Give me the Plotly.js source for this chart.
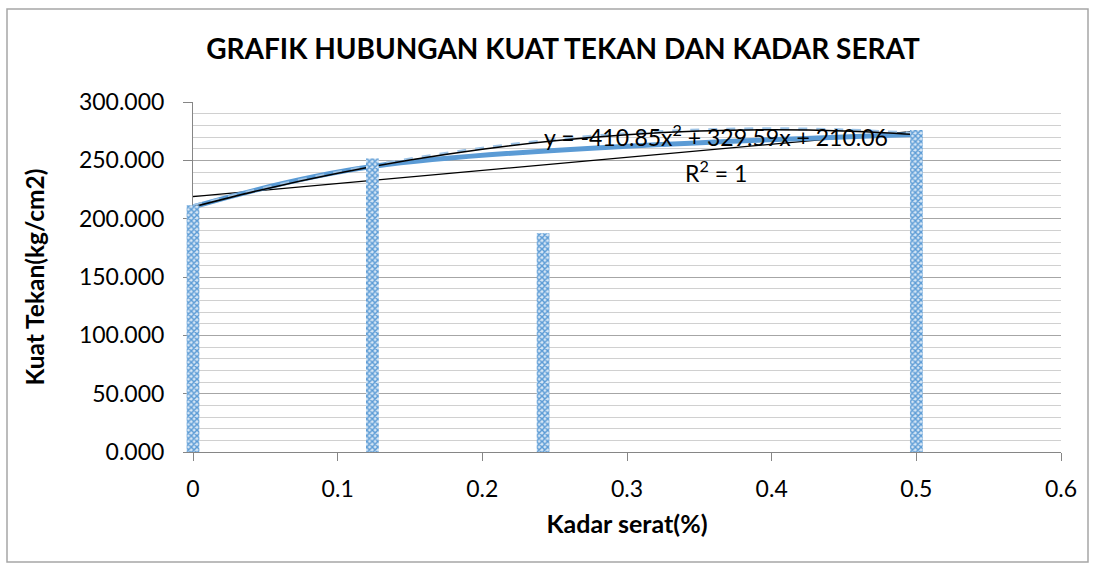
<!DOCTYPE html>
<html>
<head>
<meta charset="utf-8">
<script src="https://cdn.plot.ly/plotly-3.0.1.min.js"></script>
<style>html,body{margin:0;padding:0;background:#fff;}#chart{width:1095px;height:569px;}</style>
</head>
<body>
<div id="chart"></div>
<script>
// Data series points (Kadar serat %, Kuat Tekan kg/cm2)
var seriesX = [0, 0.125, 0.5];
var seriesY = [210.06, 244.84, 272.15];

// Bars (patterned columns) as they appear in the chart
var barX = [0, 0.124, 0.242, 0.5];
var barY = [211.5, 251.5, 187.5, 276];

// Polynomial (order 2) trendline
var polyX = [0, 0.05, 0.1, 0.15, 0.2, 0.25, 0.3, 0.35, 0.4, 0.45, 0.5];
var polyY = [210.06, 225.51, 238.91, 250.26, 259.54, 266.78, 271.96, 275.09, 276.16, 275.18, 272.14];

// Linear trendline end points
var linX = [0, 0.5];
var linY = [218.95, 275.10];

// Texts
var chartTitle = 'GRAFIK HUBUNGAN KUAT TEKAN DAN KADAR SERAT';
var xTitle = 'Kadar serat(%)';
var yTitle = 'Kuat Tekan(kg/cm2)';
var eqText = 'y = -410.85x<sup>2</sup> + 329.59x + 210.06';
var r2Text = 'R<sup>2</sup> = 1';

var FONT = 'Lato, "Open Sans", sans-serif';

var traces = [
  {
    x: linX, y: linY, type: 'scatter', mode: 'lines',
    line: {color: '#000000', width: 1.2}, hoverinfo: 'skip', showlegend: false
  },
  {
    x: seriesX, y: seriesY, type: 'scatter', mode: 'lines',
    line: {color: '#5b9bd5', width: 5, shape: 'spline', smoothing: 1}, showlegend: false
  },
  {
    x: polyX, y: polyY.map(function(v){return v + 0.9;}), type: 'scatter', mode: 'lines',
    line: {color: '#9dc3e6', width: 3, dash: 'dash', shape: 'spline'}, hoverinfo: 'skip', showlegend: false
  },
  {
    x: polyX, y: polyY, type: 'scatter', mode: 'lines',
    line: {color: '#000000', width: 1.5, shape: 'spline'}, hoverinfo: 'skip', showlegend: false
  },
  {
    x: barX, y: barY, type: 'bar', xaxis: 'x2', yaxis: 'y2', width: 0.0088,
    marker: {color: '#5b9bd5', line: {width: 0},
      pattern: {shape: 'x', fgcolor: '#5b9bd5', bgcolor: '#d6e6f5', size: 4, solidity: 0.6}},
    showlegend: false
  }
];

var layout = {
  width: 1095, height: 569,
  margin: {l: 180, r: 34, t: 102, b: 117, pad: 0},
  paper_bgcolor: '#ffffff', plot_bgcolor: 'rgba(0,0,0,0)',
  showlegend: false,
  font: {family: FONT, size: 23, color: '#000000'},
  title: {
    text: chartTitle, font: {family: FONT, size: 28, weight: 'bold', color: '#000000'},
    xref: 'container', x: 563/1095, xanchor: 'center',
    yref: 'container', y: 1 - 49/569, yanchor: 'middle'
  },
  xaxis: {
    domain: [13/881, 1], range: [0, 0.6], dtick: 0.1, tick0: 0,
    showline: true, linecolor: '#868686', linewidth: 1,
    ticks: 'outside', ticklen: 8, tickcolor: '#868686', tickwidth: 1,
    showgrid: false, zeroline: false, fixedrange: true,
    tickfont: {family: FONT, size: 23, color: '#000000'},
    ticklabelstandoff: 8,
    title: {text: xTitle, font: {family: FONT, size: 25, weight: 'bold'}, standoff: 14}
  },
  yaxis: {
    range: [0, 300], dtick: 50, tick0: 0, tickformat: '.3f',
    showline: true, linecolor: '#868686', linewidth: 1,
    ticks: 'outside', ticklen: 9, tickcolor: '#868686', tickwidth: 1,
    showgrid: true, gridcolor: '#a6a6a6', gridwidth: 1,
    zeroline: false, fixedrange: true,
    minor: {dtick: 10, showgrid: true, gridcolor: '#d0d0d0', gridwidth: 1, ticks: ''},
    tickfont: {family: FONT, size: 23, color: '#000000'},
    ticklabelstandoff: 14,
    title: {text: yTitle, font: {family: FONT, size: 24.5, weight: 'bold'}, standoff: 27}
  },
  xaxis2: {domain: [0, 1], range: [-13/1446.67, 0.6], anchor: 'y2', visible: false, fixedrange: true},
  yaxis2: {domain: [0, 1], range: [0, 300], anchor: 'x2', visible: false, fixedrange: true},
  annotations: [
    {text: eqText, xref: 'x', yref: 'y', x: 0.3615, y: 271.0, showarrow: false,
     xanchor: 'center', yanchor: 'middle', font: {family: FONT, size: 23, color: '#000000'}},
    {text: r2Text, xref: 'x', yref: 'y', x: 0.3615, y: 240.5, showarrow: false,
     xanchor: 'center', yanchor: 'middle', font: {family: FONT, size: 23, color: '#000000'}}
  ],
  shapes: [
    {type: 'rect', xref: 'paper', yref: 'paper',
     x0: (7-180)/881, x1: (1088-180)/881, y0: (452-562)/350, y1: (452-9)/350,
     line: {color: '#a6a6a6', width: 1.5}, fillcolor: 'rgba(0,0,0,0)', layer: 'below'}
  ]
};

Plotly.newPlot('chart', traces, layout, {displayModeBar: false, staticPlot: true});
</script>
</body>
</html>
